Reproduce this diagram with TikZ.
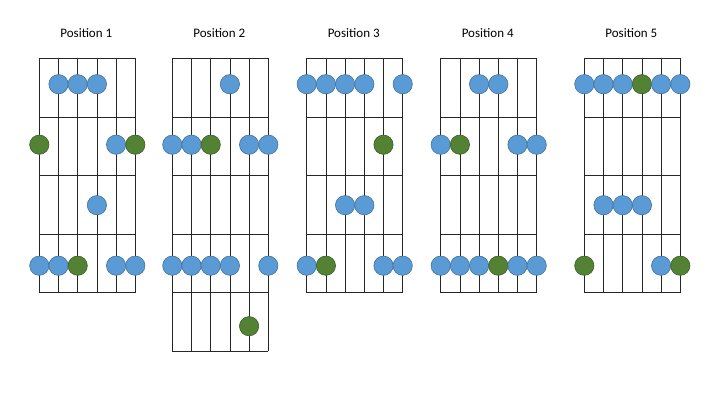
\documentclass[tikz,border=0pt]{standalone}
\usepackage{fontspec}
\setmainfont{Carlito}
\usetikzlibrary{positioning}
\definecolor{dotblue}{HTML}{5B9BD5}
\definecolor{dotblueline}{HTML}{41719C}
\definecolor{dotgreen}{HTML}{548235}
\definecolor{dotgreenline}{HTML}{3B5E25}
\definecolor{fretline}{HTML}{262626}
\tikzset{
  bluedot/.style={circle, draw=dotblueline, fill=dotblue, minimum size=19.3pt, inner sep=0pt, line width=0.6pt},
  greendot/.style={bluedot, draw=dotgreenline, fill=dotgreen},
  boardtitle/.style={font=\fontsize{13}{15}\selectfont, inner sep=1pt},
  gridline/.style={draw=fretline, line width=0.7pt}
}
\begin{document}
\begin{tikzpicture}[x=1pt, y=-1pt]
  \useasboundingbox (0,0) rectangle (720,405);
  % fretboards: strings, frets and title
  \foreach \b/\bx/\cells in {1/39.3/4, 2/172.3/5, 3/306.7/4, 4/440.7/4, 5/584.3/4} {
    \node[boardtitle] (title\b) at (\bx+47, 33) {Position \b};
    \foreach \s in {0,...,5}
      \draw[gridline] (\bx+\s*19.2, 58.3) -- (\bx+\s*19.2, 58.3+\cells*58.6);
    \foreach \f in {0,...,\cells}
      \draw[gridline] (\bx, 58.3+\f*58.6) -- (\bx+96, 58.3+\f*58.6);
  }
  % finger dots: row/string/colour
  \foreach \b/\bx/\notes in {
      1/39.3/{1/2/blue,1/3/blue,1/4/blue,2/1/green,2/5/blue,2/6/green,3/4/blue,4/1/blue,4/2/blue,4/3/green,4/5/blue,4/6/blue},
      2/172.3/{1/4/blue,2/1/blue,2/2/blue,2/3/green,2/5/blue,2/6/blue,4/1/blue,4/2/blue,4/3/blue,4/4/blue,4/6/blue,5/5/green},
      3/306.7/{1/1/blue,1/2/blue,1/3/blue,1/4/blue,1/6/blue,2/5/green,3/3/blue,3/4/blue,4/1/blue,4/2/green,4/5/blue,4/6/blue},
      4/440.7/{1/3/blue,1/4/blue,2/1/blue,2/2/green,2/5/blue,2/6/blue,4/1/blue,4/2/blue,4/3/blue,4/4/green,4/5/blue,4/6/blue},
      5/584.3/{1/1/blue,1/2/blue,1/3/blue,1/4/green,1/5/blue,1/6/blue,3/2/blue,3/3/blue,3/4/blue,4/1/green,4/5/blue,4/6/green}} {
    \foreach \r/\s/\c in \notes
      \node[\c dot] (dot\b-\r-\s) at (\bx+\s*19.2-19.2, 84.2+\r*60.5-60.5) {};
  }
\end{tikzpicture}
\end{document}
